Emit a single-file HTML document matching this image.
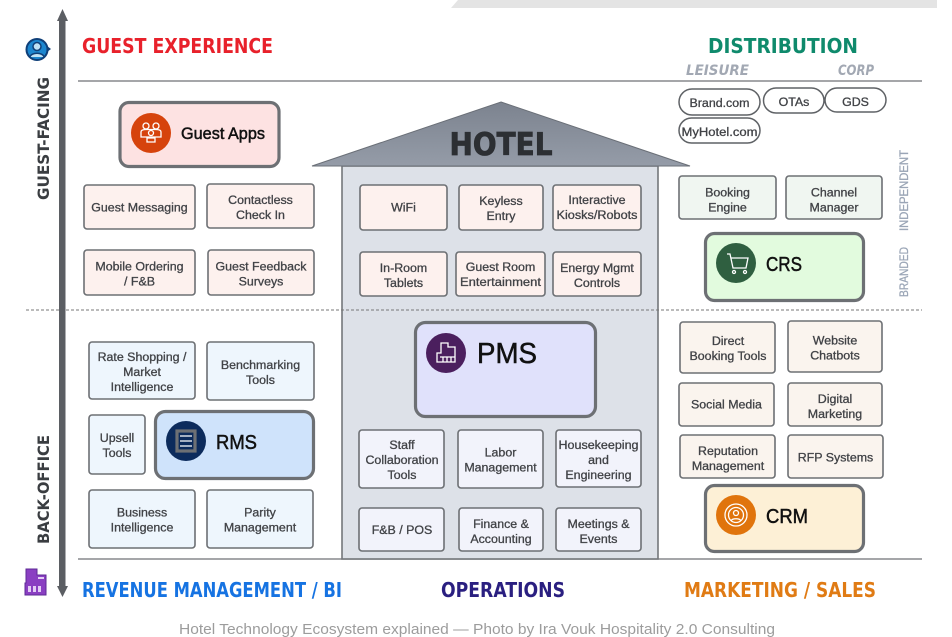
<!DOCTYPE html>
<html lang="en"><head><meta charset="utf-8"><title>Hotel Technology Ecosystem</title>
<style>
html,body{margin:0;padding:0;background:#fff;width:952px;height:637px;overflow:hidden}
svg{display:block;filter:blur(.3px)}
text{font-family:"Liberation Sans",sans-serif}
.b rect{stroke:#6d7074;stroke-width:1.6}
.b text{font-size:12.4px;fill:#404246;text-anchor:middle;stroke:#404246;stroke-width:.3}
.m rect{stroke:#6d7074;stroke-width:3.2}
.m text{fill:#111;stroke:#111;stroke-width:.5}
.h{font-family:"DejaVu Sans",sans-serif;font-weight:bold;font-size:20px}
.p rect{fill:#fff;stroke:#5f6266;stroke-width:1.5}
.p text{font-size:12.4px;fill:#404246;text-anchor:middle;stroke:#404246;stroke-width:.3}
.i{fill:none;stroke:#fff;stroke-width:1.3}
</style></head><body>
<svg width="952" height="637" viewBox="0 0 952 637" xmlns="http://www.w3.org/2000/svg">
<defs><linearGradient id="roof" x1="0" y1="0" x2="0" y2="1"><stop offset="0" stop-color="#7c838f"/><stop offset="1" stop-color="#959ca8"/></linearGradient></defs>
<rect width="952" height="637" fill="#fff"/>
<polygon points="451,8 458,0 937,0 937,8" fill="#e4e4e4"/>

<line x1="78" y1="81" x2="922" y2="81" stroke="#6f7276" stroke-width="1.2"/>
<line x1="78" y1="559" x2="922" y2="559" stroke="#6f7276" stroke-width="1.2"/>

<!-- house -->
<rect x="342" y="166" width="316" height="393" fill="#dde1e8" stroke="#74777b" stroke-width="1.6"/>
<polygon points="501,102 690,166 312,166" fill="url(#roof)" stroke="#6a6f77" stroke-width="1"/>
<text x="501" y="155" class="h" style="font-size:31px" fill="#2c2f33" stroke="#2c2f33" stroke-width=".8" text-anchor="middle" textLength="103" lengthAdjust="spacingAndGlyphs">HOTEL</text>

<line x1="26" y1="310" x2="922" y2="310" stroke="#777" stroke-width="1" stroke-dasharray="3 2"/>

<!-- axis -->
<rect x="59" y="18" width="6.5" height="570" fill="#5b5e63"/>
<polygon points="62.500,9 68,21 57,21" fill="#5b5e63"/>
<polygon points="62.500,597 68,586 57,586" fill="#5b5e63"/>

<!-- headings -->
<text x="82" y="53" class="h" fill="#e8212b" textLength="191" lengthAdjust="spacingAndGlyphs">GUEST EXPERIENCE</text>
<text x="708" y="53" class="h" fill="#0f8a6c" textLength="150" lengthAdjust="spacingAndGlyphs">DISTRIBUTION</text>
<text x="686" y="75" class="h" style="font-size:14px;font-style:italic" fill="#a2a8b3" textLength="63" lengthAdjust="spacingAndGlyphs">LEISURE</text>
<text x="838" y="75" class="h" style="font-size:14px;font-style:italic" fill="#a2a8b3" textLength="36" lengthAdjust="spacingAndGlyphs">CORP</text>
<text x="82" y="597" class="h" fill="#1673e2" textLength="260" lengthAdjust="spacingAndGlyphs">REVENUE MANAGEMENT / BI</text>
<text x="441" y="597" class="h" fill="#2a1f80" textLength="124" lengthAdjust="spacingAndGlyphs">OPERATIONS</text>
<text x="684" y="597" class="h" fill="#e07b14" textLength="192" lengthAdjust="spacingAndGlyphs">MARKETING / SALES</text>
<text transform="translate(49,200) rotate(-90)" class="h" style="font-size:16px" fill="#3a3d41" textLength="123" lengthAdjust="spacingAndGlyphs">GUEST-FACING</text>
<text transform="translate(49,544) rotate(-90)" class="h" style="font-size:16px" fill="#3a3d41" textLength="109" lengthAdjust="spacingAndGlyphs">BACK-OFFICE</text>
<text transform="translate(908,231) rotate(-90)" style="font-size:12px" fill="#9aa5b6" textLength="81" lengthAdjust="spacingAndGlyphs" stroke="#9aa5b6" stroke-width=".3">INDEPENDENT</text>
<text transform="translate(908,297) rotate(-90)" style="font-size:12px" fill="#9aa5b6" textLength="50" lengthAdjust="spacingAndGlyphs" stroke="#9aa5b6" stroke-width=".3">BRANDED</text>

<!-- side icons -->
<circle cx="37" cy="49.500" r="10.500" fill="#1c86cf" stroke="#0f3f78" stroke-width="2"/>
<circle cx="37" cy="46.500" r="4" fill="#bfe2f5" stroke="#0f3f78" stroke-width="1.500"/>
<path d="M30 57c1-5 13-5 14 0" fill="#bfe2f5" stroke="#0f3f78" stroke-width="1.500"/>
<polygon points="47,46 51,49 47,52" fill="#0f3f78"/>
<path d="M26 569h11v6h9v20H25v-12h1z" fill="#8a3fc2" stroke="#5d2a96" stroke-width="1"/>
<rect x="28" y="586" width="3" height="6" fill="#e3cdf5"/><rect x="33" y="586" width="3" height="6" fill="#e3cdf5"/><rect x="38" y="586" width="3" height="6" fill="#e3cdf5"/>
<rect x="38" y="577" width="6" height="2" fill="#e3cdf5"/>

<!-- Guest experience -->
<g class="b">
<g><rect x="84" y="185" width="111" height="44" rx="3" fill="#fdf1ee"/><text x="139.500" y="211.500">Guest Messaging</text></g>
<g><rect x="207" y="184" width="107" height="44" rx="3" fill="#fdf1ee"/><text x="260.500" y="204">Contactless</text><text x="260.500" y="219">Check In</text></g>
<g><rect x="84" y="250" width="111" height="45" rx="3" fill="#fdf1ee"/><text x="139.500" y="270.500">Mobile Ordering</text><text x="139.500" y="285.500">/ F&amp;B</text></g>
<g><rect x="208" y="250" width="106" height="45" rx="3" fill="#fdf1ee"/><text x="261" y="270.500">Guest Feedback</text><text x="261" y="285.500">Surveys</text></g>

<!-- Hotel guest-facing -->
<g><rect x="360" y="185" width="87" height="45" rx="3" fill="#fdf1ee"/><text x="403.500" y="211.500">WiFi</text></g>
<g><rect x="459" y="185" width="84" height="45" rx="3" fill="#fdf1ee"/><text x="501" y="205">Keyless</text><text x="501" y="220">Entry</text></g>
<g><rect x="553" y="185" width="88" height="45" rx="3" fill="#fdf1ee"/><text x="597" y="204">Interactive</text><text x="597" y="219" textLength="81" lengthAdjust="spacingAndGlyphs">Kiosks/Robots</text></g>
<g><rect x="360" y="252" width="87" height="44" rx="3" fill="#fdf1ee"/><text x="403.500" y="272">In-Room</text><text x="403.500" y="287">Tablets</text></g>
<g><rect x="456" y="252" width="89" height="44" rx="3" fill="#fdf1ee"/><text x="500.500" y="271">Guest Room</text><text x="500.500" y="286" textLength="81" lengthAdjust="spacingAndGlyphs">Entertainment</text></g>
<g><rect x="553" y="252" width="88" height="44" rx="3" fill="#fdf1ee"/><text x="597" y="272">Energy Mgmt</text><text x="597" y="287">Controls</text></g>

<!-- Hotel ops -->
<g><rect x="359" y="430" width="85" height="58" rx="3" fill="#f2f3fb"/><text x="402" y="449">Staff</text><text x="402" y="464">Collaboration</text><text x="402" y="479">Tools</text></g>
<g><rect x="458" y="430" width="85" height="58" rx="3" fill="#f2f3fb"/><text x="500.500" y="456.500">Labor</text><text x="500.500" y="471.500">Management</text></g>
<g><rect x="556" y="430" width="85" height="57" rx="3" fill="#f2f3fb"/><text x="598.500" y="449" textLength="80" lengthAdjust="spacingAndGlyphs">Housekeeping</text><text x="598.500" y="464">and</text><text x="598.500" y="479">Engineering</text></g>
<g><rect x="359" y="508" width="85" height="43" rx="3" fill="#f2f3fb"/><text x="402" y="534">F&amp;B / POS</text></g>
<g><rect x="459" y="508" width="84" height="43" rx="3" fill="#f2f3fb"/><text x="501" y="528">Finance &amp;</text><text x="501" y="543">Accounting</text></g>
<g><rect x="556" y="508" width="85" height="43" rx="3" fill="#f2f3fb"/><text x="598.500" y="528">Meetings &amp;</text><text x="598.500" y="543">Events</text></g>

<!-- Revenue -->
<g><rect x="89" y="342" width="106" height="57" rx="3" fill="#eef6fd"/><text x="142" y="361">Rate Shopping /</text><text x="142" y="376">Market</text><text x="142" y="391">Intelligence</text></g>
<g><rect x="207" y="342" width="107" height="58" rx="3" fill="#eef6fd"/><text x="260.500" y="369">Benchmarking</text><text x="260.500" y="384">Tools</text></g>
<g><rect x="89" y="415" width="56" height="59" rx="3" fill="#eef6fd"/><text x="117" y="442">Upsell</text><text x="117" y="457">Tools</text></g>
<g><rect x="89" y="490" width="106" height="58" rx="3" fill="#eef6fd"/><text x="142" y="516.500">Business</text><text x="142" y="531.500">Intelligence</text></g>
<g><rect x="207" y="490" width="106" height="58" rx="3" fill="#eef6fd"/><text x="260" y="516.500">Parity</text><text x="260" y="531.500">Management</text></g>

<!-- Distribution -->
<g><rect x="679" y="176" width="97" height="43" rx="3" fill="#f0f6f1"/><text x="727.500" y="196.500">Booking</text><text x="727.500" y="211.500">Engine</text></g>
<g><rect x="786" y="176" width="96" height="43" rx="3" fill="#f0f6f1"/><text x="834" y="196.500">Channel</text><text x="834" y="211.500">Manager</text></g>

<!-- Marketing -->
<g><rect x="680" y="322" width="95" height="51" rx="3" fill="#faf4ee"/><text x="728" y="345">Direct</text><text x="728" y="360">Booking Tools</text></g>
<g><rect x="788" y="321" width="94" height="51" rx="3" fill="#faf4ee"/><text x="835" y="344.500">Website</text><text x="835" y="359.500">Chatbots</text></g>
<g><rect x="679" y="383" width="95" height="43" rx="3" fill="#faf4ee"/><text x="726.500" y="408.500">Social Media</text></g>
<g><rect x="788" y="383" width="94" height="43" rx="3" fill="#faf4ee"/><text x="835" y="403">Digital</text><text x="835" y="418">Marketing</text></g>
<g><rect x="680" y="435" width="95" height="43" rx="3" fill="#faf4ee"/><text x="728" y="455">Reputation</text><text x="728" y="470">Management</text></g>
<g><rect x="788" y="435" width="95" height="43" rx="3" fill="#faf4ee"/><text x="835.500" y="461.500">RFP Systems</text></g>
</g>

<!-- Pills -->
<g class="p">
<g><rect x="679" y="89" width="81" height="26" rx="13"/><text x="719.500" y="107">Brand.com</text></g>
<g><rect x="763.500" y="88" width="60.500" height="25" rx="12.500"/><text x="794" y="106">OTAs</text></g>
<g><rect x="825" y="88" width="61" height="24" rx="12"/><text x="855.500" y="106">GDS</text></g>
<g><rect x="679" y="118" width="81" height="25" rx="12.500"/><text x="719.500" y="136" textLength="76" lengthAdjust="spacingAndGlyphs">MyHotel.com</text></g>
</g>

<!-- Main modules -->
<g class="m">
<g><rect x="120" y="102.500" width="159" height="64" rx="9" fill="#fde2e2"/><circle cx="151" cy="133" r="20" fill="#d6430c"/><text x="181" y="139" style="font-size:16.500px" textLength="84" lengthAdjust="spacingAndGlyphs">Guest Apps</text>
<g class="i"><circle cx="146" cy="126" r="3"/><circle cx="156" cy="126" r="3"/><path d="M141 137v-5c0-2 3-2.500 5-2.500h10c2 0 5 .5 5 2.500v5z"/><circle cx="151" cy="133" r="2.500"/><path d="M147 142v-4h8v4z"/></g></g>
<g><rect x="415.500" y="322.500" width="180" height="94" rx="10" fill="#e0e1fb"/><circle cx="446" cy="353" r="20" fill="#4b1f5e"/><text x="477" y="363" style="font-size:29px" textLength="60" lengthAdjust="spacingAndGlyphs">PMS</text>
<g class="i"><path d="M441 353v-10h7v4h7v15h-18v-9z"/><path d="M440 357h15M443 357v5M447 357v5M451 357v5"/></g></g>
<g><rect x="705.500" y="233.500" width="158" height="67" rx="9" fill="#e2fbde"/><circle cx="736" cy="263" r="20" fill="#2f5f40"/><text x="766" y="271" style="font-size:20px" textLength="36" lengthAdjust="spacingAndGlyphs">CRS</text>
<g class="i"><path d="M727 254h3l3 14h13l2-10h-17"/><circle cx="734" cy="272" r="1.500"/><circle cx="745" cy="272" r="1.500"/></g></g>
<g><rect x="155.500" y="411.500" width="158" height="67" rx="10" fill="#cfe3fb"/><circle cx="186" cy="441" r="20" fill="#0c2b5c"/><text x="216" y="449" style="font-size:20px" textLength="41" lengthAdjust="spacingAndGlyphs">RMS</text>
<g class="i"><rect x="177" y="431" width="18" height="20"/><path d="M180 436h12M180 441h12M180 446h12"/></g></g>
<g><rect x="705.500" y="485.500" width="158" height="66" rx="9" fill="#fdf0d6"/><circle cx="736" cy="515" r="20" fill="#e0740c"/><text x="766" y="523" style="font-size:20px" textLength="42" lengthAdjust="spacingAndGlyphs">CRM</text>
<g class="i"><circle cx="736" cy="515" r="11"/><circle cx="736" cy="515" r="7.500"/><circle cx="736" cy="513" r="2.500"/><path d="M731 521c1-3 9-3 10 0"/></g></g>
</g>

<text x="477" y="634" text-anchor="middle" style="font-size:15px" fill="#9c9c9c" textLength="596" lengthAdjust="spacingAndGlyphs">Hotel Technology Ecosystem explained — Photo by Ira Vouk Hospitality 2.0 Consulting</text>
</svg>
</body></html>
